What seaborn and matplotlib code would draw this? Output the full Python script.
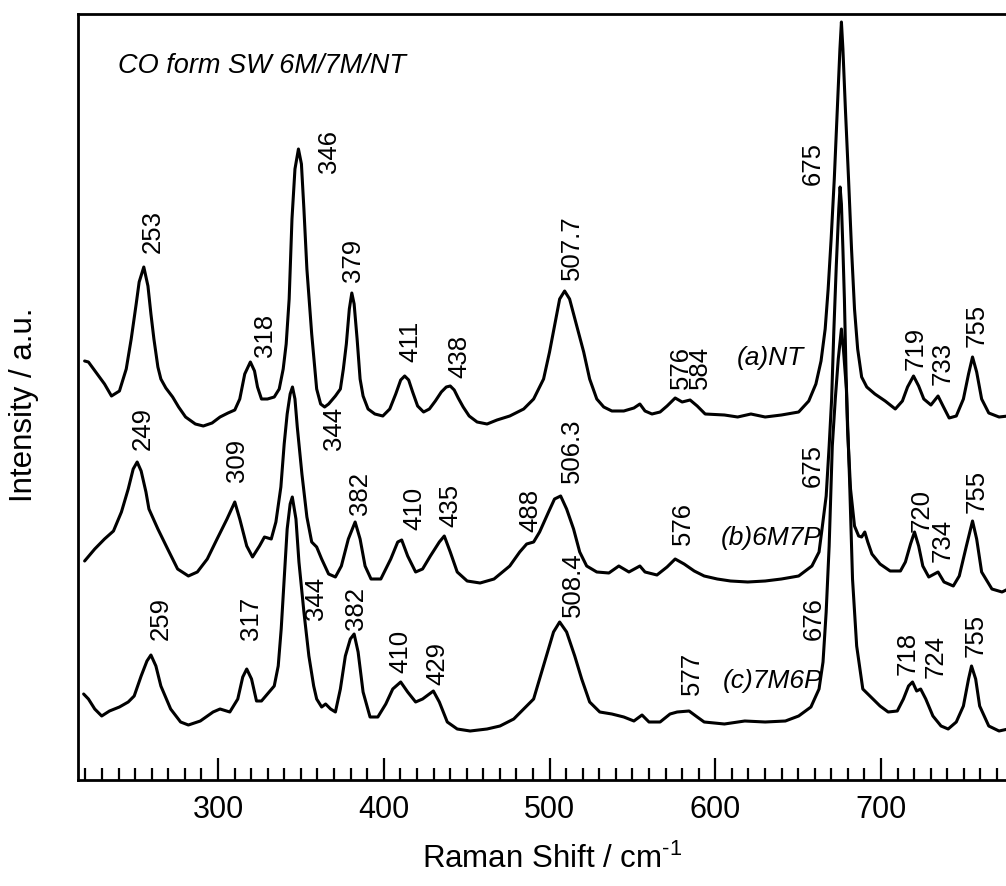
import numpy as np
import pandas as pd
import matplotlib
matplotlib.use("Agg")
import matplotlib.pyplot as plt
from matplotlib.ticker import MultipleLocator
import seaborn as sns

# ---------------- data ----------------
shift_a = [219.5, 221.8, 225.8, 231.5, 235.7, 240.5, 244.6, 247.6, 250.6, 252.4,
           255.2, 257.7, 259.5, 261.3, 263.7, 265.5, 268.5, 272.6, 276.2, 280.4,
           286.3, 291.1, 296.4, 301.2, 306.0, 310.1, 313.1, 316.1, 319.5, 322.0,
           323.8, 326.2, 329.8, 333.9, 336.9, 339.3, 341.1, 342.9, 344.6, 346.4,
           348.5, 350.3, 351.8, 353.6, 356.5, 359.5, 361.9, 364.3, 366.7, 370.8,
           373.8, 375.6, 377.4, 379.2, 380.7, 382.1, 383.9, 385.7, 387.5, 390.5,
           394.6, 399.4, 403.6, 407.2, 410.2, 412.6, 415.0, 417.4, 420.4, 424.0,
           427.5, 431.1, 434.7, 437.7, 440.1, 442.5, 444.9, 447.9, 451.5, 456.3,
           462.3, 468.3, 476.0, 484.4, 490.4, 496.4, 500.0, 503.0, 506.1, 509.1,
           512.1, 516.4, 520.6, 524.2, 528.5, 532.7, 537.6, 544.8, 550.9, 554.5,
           557.6, 561.8, 566.7, 570.9, 575.8, 580.0, 584.8, 589.1, 593.9, 605.5,
           613.5, 621.5, 630.1, 639.9, 650.3, 656.4, 660.7, 663.8, 666.3, 668.1,
           669.9, 671.8, 673.6, 675.2, 676.1, 677.0, 678.5, 680.4, 682.2, 684.0,
           685.9, 688.3, 691.4, 696.3, 702.5, 708.6, 712.9, 716.0, 719.6, 722.7,
           725.8, 730.1, 734.4, 737.4, 741.1, 745.4, 749.7, 752.8, 755.2, 757.7,
           760.7, 765.0, 771.2, 776.7]
int_a = [41.9, 41.8, 40.9, 39.6, 38.4, 38.9, 41.1, 44.1, 47.6, 49.8,
         51.3, 49.4, 46.6, 44.1, 41.3, 40.1, 39.2, 38.3, 37.3, 36.3,
         35.6, 35.4, 35.7, 36.3, 36.7, 37.0, 38.1, 40.6, 41.8, 40.9,
         39.3, 38.1, 38.1, 38.3, 39.1, 41.1, 43.6, 48.1, 56.1, 61.1,
         63.1, 61.6, 57.1, 51.1, 44.6, 39.1, 37.6, 37.3, 37.6, 38.4,
         39.1, 41.1, 43.6, 47.1, 48.7, 47.6, 44.1, 40.1, 38.4, 37.1,
         36.6, 36.4, 37.1, 38.6, 40.0, 40.4, 40.0, 38.8, 37.4, 36.8,
         37.1, 37.9, 38.8, 39.3, 39.4, 39.0, 38.2, 37.3, 36.4, 35.8,
         35.6, 36.0, 36.4, 37.1, 38.1, 40.1, 42.8, 45.4, 48.1, 48.9,
         48.1, 45.4, 42.8, 40.1, 38.1, 37.3, 36.9, 36.9, 37.2, 37.6,
         36.9, 36.6, 36.8, 37.4, 38.2, 37.8, 38.0, 37.4, 36.6, 36.5,
         36.3, 36.6, 36.3, 36.5, 36.8, 37.9, 39.6, 41.9, 45.1, 49.1,
         54.1, 60.1, 67.1, 73.1, 75.8, 73.1, 67.1, 60.1, 53.1, 47.1,
         43.1, 40.3, 39.3, 38.6, 37.9, 37.1, 37.9, 39.3, 40.4, 39.4,
         38.1, 37.5, 38.4, 37.4, 36.2, 36.4, 38.1, 40.6, 42.3, 40.8,
         38.1, 36.7, 36.3, 36.4]

shift_b = [219.5, 225.6, 231.5, 236.9, 241.7, 245.8, 248.8, 251.2, 253.6, 256.5,
           258.3, 263.7, 269.6, 275.6, 282.1, 287.5, 293.5, 299.4, 305.4, 310.1,
           313.1, 317.3, 320.8, 325.0, 328.0, 332.1, 334.9, 337.9, 339.9, 341.7,
           343.5, 344.9, 346.4, 347.8, 350.6, 353.6, 356.5, 359.5, 362.5, 366.7,
           370.8, 374.4, 378.6, 382.7, 385.7, 388.7, 392.3, 398.2, 404.2, 408.4,
           410.8, 414.4, 419.2, 423.4, 428.1, 433.5, 436.5, 440.1, 444.3, 450.3,
           458.1, 466.5, 476.0, 482.0, 486.2, 490.4, 494.0, 499.4, 503.0, 506.7,
           510.3, 514.5, 518.2, 522.4, 528.5, 535.8, 541.8, 547.9, 554.5, 557.6,
           564.8, 570.9, 575.8, 581.2, 587.3, 593.3, 601.2, 609.2, 619.6, 630.1,
           639.9, 650.3, 658.3, 662.6, 664.4, 666.9, 668.7, 670.2, 671.5, 673.0,
           674.5, 675.3, 676.1, 677.0, 677.9, 678.8, 679.8, 681.6, 684.0, 686.5,
           688.3, 690.2, 692.0, 694.5, 699.4, 705.5, 711.7, 714.7, 717.8, 720.2,
           722.7, 725.2, 728.8, 734.4, 738.0, 743.6, 747.2, 751.5, 755.2, 757.7,
           760.7, 766.9, 773.0, 776.7]
int_b = [21.9, 23.1, 24.1, 24.9, 26.8, 29.1, 31.1, 31.8, 30.9, 28.8,
         27.1, 25.1, 23.1, 21.1, 20.4, 20.8, 22.1, 24.1, 26.1, 27.8,
         26.1, 23.4, 22.3, 23.4, 24.3, 24.1, 25.8, 29.3, 33.6, 36.6,
         38.6, 39.3, 38.1, 35.3, 30.6, 26.3, 23.8, 23.3, 22.1, 20.6,
         20.3, 21.4, 24.1, 25.8, 24.1, 21.4, 20.1, 20.1, 22.1, 23.8,
         24.0, 22.4, 20.8, 21.1, 22.4, 23.8, 24.4, 22.8, 20.8, 19.9,
         19.7, 20.1, 21.4, 22.8, 23.6, 23.8, 24.8, 26.8, 28.1, 28.4,
         27.1, 25.1, 22.8, 21.4, 20.8, 20.7, 21.4, 20.8, 21.4, 20.8,
         20.5, 21.3, 22.1, 21.6, 20.9, 20.4, 20.1, 19.9, 19.8, 19.9,
         20.1, 20.4, 21.4, 22.8, 25.1, 28.4, 33.4, 38.1, 44.8, 51.4,
         57.1, 59.3, 57.6, 53.1, 48.1, 41.4, 35.1, 29.1, 25.4, 24.4,
         24.3, 24.8, 23.8, 22.6, 21.6, 20.9, 20.9, 21.8, 23.6, 24.8,
         23.4, 21.4, 20.3, 20.8, 19.8, 19.4, 20.4, 23.4, 25.9, 24.1,
         20.8, 19.1, 18.8, 19.1]

shift_c = [218.9, 221.8, 225.6, 229.8, 234.5, 240.5, 245.8, 249.4, 253.6, 257.1,
           259.5, 262.5, 265.5, 271.4, 277.4, 282.1, 289.3, 297.0, 301.2, 307.1,
           311.9, 314.9, 317.3, 320.2, 323.2, 326.2, 329.8, 333.9, 336.3, 338.1,
           339.9, 341.7, 343.5, 344.8, 347.0, 348.8, 351.8, 354.8, 357.7, 359.5,
           362.5, 364.9, 367.9, 370.8, 373.8, 376.8, 379.8, 382.1, 384.5, 387.5,
           391.7, 396.4, 401.2, 405.4, 410.2, 414.4, 419.2, 423.4, 427.5, 429.9,
           433.5, 438.3, 444.3, 452.1, 462.3, 470.1, 478.4, 484.4, 490.4, 494.0,
           498.2, 502.4, 506.1, 510.3, 515.2, 519.4, 524.2, 530.3, 537.6, 544.8,
           550.9, 555.8, 560.0, 566.7, 572.7, 577.0, 584.2, 589.1, 593.3, 605.5,
           617.8, 630.1, 642.3, 650.3, 657.7, 662.6, 665.0, 666.9, 668.7, 670.6,
           672.4, 674.2, 676.1, 677.3, 679.1, 681.0, 682.8, 685.3, 689.0, 693.3,
           699.4, 704.3, 709.8, 713.5, 716.6, 719.0, 721.5, 723.9, 727.0, 731.3,
           736.2, 740.5, 745.4, 749.7, 752.8, 754.6, 757.1, 759.5, 765.0, 771.2,
           776.7]
int_c = [8.6, 8.1, 7.1, 6.4, 6.9, 7.3, 7.8, 8.4, 10.4, 11.9,
         12.5, 11.4, 9.4, 7.1, 5.8, 5.5, 5.9, 6.8, 7.1, 6.8,
         8.1, 10.3, 11.1, 10.1, 7.9, 7.9, 8.6, 9.4, 11.4, 15.1,
         20.1, 25.1, 27.6, 28.3, 26.1, 21.8, 16.8, 12.4, 9.4, 8.1,
         7.3, 7.6, 7.1, 6.8, 9.1, 12.4, 14.1, 14.6, 12.8, 8.8,
         6.3, 6.3, 7.6, 9.1, 9.8, 8.8, 7.8, 8.1, 8.6, 8.9,
         7.8, 5.8, 5.1, 4.9, 5.1, 5.4, 6.1, 7.1, 8.1, 10.1,
         12.4, 14.8, 15.8, 14.8, 12.4, 10.1, 7.8, 6.8, 6.6, 6.3,
         5.9, 6.5, 5.8, 5.8, 6.6, 6.8, 6.9, 6.3, 5.8, 5.6,
         5.9, 5.8, 5.9, 6.4, 7.3, 9.1, 11.8, 16.8, 23.4, 33.4,
         38.1, 42.1, 45.1, 43.1, 39.1, 30.1, 20.1, 13.4, 9.1, 8.4,
         7.4, 6.8, 6.9, 8.1, 9.4, 9.8, 8.9, 9.1, 8.1, 6.4,
         5.4, 5.1, 5.8, 7.4, 10.1, 11.4, 10.1, 7.4, 5.4, 4.9,
         5.1]

trace_names = ["(a)NT", "(b)6M7P", "(c)7M6P"]
trace_label_pos = [(653.4, 42.3), (664.4, 24.3), (664.4, 10.0)]

# peak annotations: (text, x, y of text bottom)
peak_labels = [
    ("253", 260.4, 52.8), ("318", 328.5, 42.4), ("346", 367.1, 60.8),
    ("379", 381.4, 49.9), ("411", 416.2, 41.9), ("438", 445.3, 40.3),
    ("507.7", 513.3, 50.1), ("576\n584", 584.8, 39.2),
    ("675", 658.9, 59.6), ("719", 720.9, 41.1), ("733", 737.4, 39.6),
    ("755", 757.7, 43.4),
    ("249", 254.8, 33.1), ("309", 311.6, 29.9), ("344", 370.1, 33.1),
    ("382", 385.5, 26.6), ("410", 418.4, 25.1), ("435", 440.1, 25.4),
    ("488", 488.6, 24.9), ("506.3", 513.3, 29.8), ("576", 580.6, 23.6),
    ("675", 658.9, 29.4), ("720", 724.5, 24.9), ("734", 737.4, 21.9),
    ("755", 757.7, 26.8),
    ("259", 265.5, 14.1), ("317", 320.1, 14.1), ("344", 359.2, 16.1),
    ("382", 383.3, 15.1), ("410", 410.2, 10.8), ("429", 432.3, 9.6),
    ("508.4", 513.9, 16.4), ("577", 586.1, 8.6), ("676", 659.5, 14.1),
    ("718", 716.0, 10.6), ("724", 733.1, 10.3), ("755", 757.1, 12.4),
]

title_text = "CO form SW 6M/7M/NT"
major_ticks = [300, 400, 500, 600, 700]

# ---------------- style ----------------
sns.set_theme(style="ticks")
plt.rcParams['font.family'] = ['Liberation Sans', 'DejaVu Sans']
plt.rcParams['mathtext.fontset'] = 'custom'
plt.rcParams['mathtext.rm'] = 'Liberation Sans'
plt.rcParams['mathtext.it'] = 'Liberation Sans:italic'
plt.rcParams['mathtext.default'] = 'rm'
for k in ['text.color', 'axes.labelcolor', 'xtick.color', 'ytick.color', 'axes.edgecolor']:
    plt.rcParams[k] = 'black'

fig = plt.figure(figsize=(10.06, 8.87), dpi=100)
ax = fig.add_axes([78 / 1006, 106 / 887, 928 / 1006, 766 / 887])

df = pd.concat([
    pd.DataFrame({"shift": shift_a, "intensity": int_a, "trace": trace_names[0]}),
    pd.DataFrame({"shift": shift_b, "intensity": int_b, "trace": trace_names[1]}),
    pd.DataFrame({"shift": shift_c, "intensity": int_c, "trace": trace_names[2]}),
])
sns.lineplot(data=df, x="shift", y="intensity", units="trace", estimator=None,
             color="black", lw=2.2, sort=False, legend=False, ax=ax)

ax.set_xlim(215.5, 775.4)
ax.set_ylim(0, 76.6)
ax.set_yticks([])
ax.set_xticks(major_ticks)
ax.xaxis.set_minor_locator(MultipleLocator(10))
ax.tick_params(axis='x', which='major', direction='in', length=16, width=1.6,
               labelsize=22, pad=10)
ax.tick_params(axis='x', which='minor', direction='in', length=8.5, width=1.6)
for side in ['left', 'top', 'bottom']:
    ax.spines[side].set_linewidth(2.0)
    ax.spines[side].set_color('black')
ax.spines['right'].set_visible(False)

ax.set_xlabel(r"Raman Shift / cm$^{\text{-1}}$", fontsize=22.5, va='baseline')
ax.xaxis.set_label_coords(0.511, -0.1136)
ax.set_ylabel("Intensity / a.u.", fontsize=22.5, va='baseline')
ax.yaxis.set_label_coords(-0.0496, 0.491)

ax.text(0.043, 0.933, title_text, transform=ax.transAxes, ha='left', va='center',
        fontsize=19.5, style='italic')

for name, (x, y) in zip(trace_names, trace_label_pos):
    ax.text(x, y, name, ha='right', va='center', fontsize=19, style='italic')

for s, x, y in peak_labels:
    ax.text(x, y, s, rotation=90, ha='center', va='bottom', fontsize=18.5,
            multialignment='left', linespacing=0.72)

fig.savefig("out.png", dpi=100)
